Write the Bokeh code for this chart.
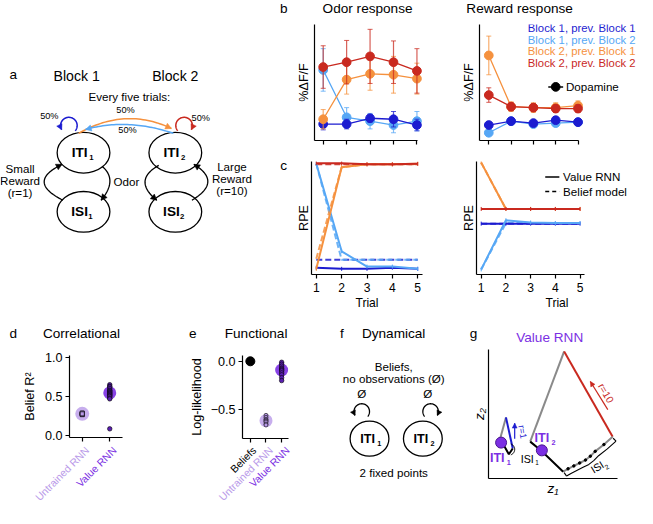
import numpy as np
from bokeh.plotting import figure
from bokeh.layouts import row, column
from bokeh.models import Range1d, Label, FixedTicker
from bokeh.embed import file_html
from bokeh.resources import INLINE

FONT = "Liberation Sans"
SX = 637 / 653
SY = 508 / 524
FS = 0.97

C_B1P1 = "#1c1cd0"
C_B1P2 = "#56a7f5"
C_B2P1 = "#f5913e"
C_B2P2 = "#c9291f"
PURPLE = "#7b2fe3"
LPURPLE = "#b99ae9"
GRAY = "#8a8a8a"

# ---------------- data ----------------
trials = [1, 2, 3, 4, 5]
series_names = ["Block 1, prev. Block 1", "Block 1, prev. Block 2",
                "Block 2, prev. Block 1", "Block 2, prev. Block 2"]

odor_b1p1 = [1.7, 1.7, 2.3, 2.2, 1.6]
odor_b1p1_err = [0.6, 0.5, 0.4, 0.8, 0.6]
odor_b1p2 = [7.3, 2.4, 2.0, 1.6, 2.0]
odor_b1p2_err = [2.2, 1.0, 0.8, 0.8, 1.0]
odor_b2p1 = [2.2, 6.3, 6.9, 6.8, 6.4]
odor_b2p1_err = [1.0, 1.5, 1.7, 1.9, 1.6]
odor_b2p2 = [7.6, 8.1, 8.7, 8.1, 7.2]
odor_b2p2_err = [2.2, 2.25, 2.8, 2.2, 2.3]

rew_b1p1 = [1.6, 2.0, 1.8, 2.1, 1.9]
rew_b1p1_err = [0.2, 0.2, 0.2, 0.3, 0.2]
rew_b1p2 = [0.8, 2.0, 1.7, 1.8, 1.9]
rew_b1p2_err = [0.2, 0.2, 0.2, 0.2, 0.2]
rew_b2p1 = [8.8, 3.5, 3.4, 3.4, 3.6]
rew_b2p1_err = [2.0, 0.5, 0.5, 0.5, 0.5]
rew_b2p2 = [4.7, 3.5, 3.4, 3.3, 3.3]
rew_b2p2_err = [0.75, 0.4, 0.4, 0.4, 0.4]

rpe_odor_rnn_b1p1 = [0.6, 0.5, 0.5, 0.6, 0.5]
rpe_odor_rnn_b1p2 = [9.8, 2.05, 0.7, 0.7, 0.5]
rpe_odor_rnn_b2p1 = [0.5, 9.5, 9.75, 9.75, 9.8]
rpe_odor_rnn_b2p2 = [9.85, 9.85, 9.75, 9.75, 9.8]
rpe_odor_bel_b1p1 = [1.3, 1.3, 1.3, 1.3, 1.3]
rpe_odor_bel_b1p2 = [9.8, 1.3, 1.3, 1.3, 1.3]
rpe_odor_bel_b2p1 = [1.4, 9.5, 9.75, 9.75, 9.75]
rpe_odor_bel_b2p2 = [9.75, 9.75, 9.75, 9.75, 9.75]

rpe_rew_rnn_b1p1 = [4.5, 4.5, 4.5, 4.5, 4.5]
rpe_rew_rnn_b1p2 = [0.45, 4.8, 4.6, 4.55, 4.55]
rpe_rew_rnn_b2p1 = [9.9, 5.8, 5.8, 5.8, 5.8]
rpe_rew_rnn_b2p2 = [5.8, 5.8, 5.8, 5.8, 5.8]
rpe_rew_bel_b1p1 = [4.5, 4.5, 4.5, 4.5, 4.5]
rpe_rew_bel_b1p2 = [0.45, 4.55, 4.55, 4.55, 4.55]
rpe_rew_bel_b2p1 = [9.9, 5.8, 5.8, 5.8, 5.8]
rpe_rew_bel_b2p2 = [5.8, 5.8, 5.8, 5.8, 5.8]

corr_labels = ["Untrained RNN", "Value RNN"]
r2_untrained = [0.27, 0.28, 0.29, 0.28, 0.27, 0.29, 0.28, 0.28]
r2_value = [0.65, 0.63, 0.62, 0.60, 0.58, 0.57, 0.56, 0.55, 0.54, 0.53,
            0.52, 0.51, 0.50, 0.48, 0.47, 0.09]

func_labels = ["Beliefs", "Untrained RNN", "Value RNN"]
ll_beliefs = [0.0]
ll_untrained = [-0.56, -0.58, -0.60, -0.61, -0.62, -0.63, -0.65, -0.66]
ll_value = [-0.01, -0.03, -0.05, -0.07, -0.08, -0.09, -0.10, -0.12, -0.14, -0.17, -0.20]

# Value RNN state-space trajectory (z1, z2)
traj_iti2_up_z1 = [0.43, 0.78]
traj_iti2_up_z2 = [0.38, 1.31]
traj_rew10_z1 = [0.78, 1.28]
traj_rew10_z2 = [1.31, 0.43]
traj_isi2_z1 = [1.28, 1.19, 1.10, 1.05, 1.00, 0.94, 0.88, 0.82, 0.77]
traj_isi2_z2 = [0.43, 0.35, 0.28, 0.23, 0.19, 0.16, 0.13, 0.10, 0.07]
traj_back2_z1 = [0.77, 0.55, 0.43]
traj_back2_z2 = [0.07, 0.28, 0.38]
traj_iti1_up_z1 = [0.12, 0.18]
traj_iti1_up_z2 = [0.41, 0.63]
traj_rew1_z1 = [0.18, 0.25]
traj_rew1_z2 = [0.63, 0.31]
traj_back1_z1 = [0.25, 0.21, 0.12]
traj_back1_z2 = [0.31, 0.25, 0.41]
fixed_z1 = [0.13, 0.55]
fixed_z2 = [0.37, 0.29]


# ---------------- helpers ----------------
def fpx(s):
    return f"{s * FS:.1f}px"


def make_fig(box, frame, xr, yr, axes=True):
    bx0, bx1, by0, by1 = box
    X0, X1 = round(bx0 * SX), round(bx1 * SX)
    Y0, Y1 = round(by0 * SY), round(by1 * SY)
    fl, ft, fr, fb = frame
    kw = dict(width=X1 - X0, height=Y1 - Y0,
              x_range=Range1d(*xr), y_range=Range1d(*yr),
              output_backend="svg", toolbar_location=None, frame_align=False,
              min_border_left=round(fl * SX) - X0,
              min_border_right=X1 - round(fr * SX),
              min_border_top=round(ft * SY) - Y0,
              min_border_bottom=Y1 - round(fb * SY))
    if not axes:
        kw.update(x_axis_type=None, y_axis_type=None)
    p = figure(**kw)
    p.outline_line_color = None
    p.border_fill_color = "white"
    p.background_fill_color = "white"
    if axes:
        for g in p.grid:
            g.visible = False
    return p


def diagram(box):
    bx0, bx1, by0, by1 = box
    fr = (bx0, by0, bx1, by1)
    xr, yr = (bx0, bx1), (by1, by0)
    return make_fig(box, fr, xr, yr, axes=False), fr, xr, yr


def to_data(frame, xr, yr, x, y):
    fl, ft, fr, fb = frame
    dx = xr[0] + (x - fl) / (fr - fl) * (xr[1] - xr[0])
    dy = yr[1] - (y - ft) / (fb - ft) * (yr[1] - yr[0])
    return dx, dy


def lab(p, fr, xr, yr, x, y, text, size, color="black", align="center",
        style="normal", angle=0.0, baseline="middle"):
    dx, dy = to_data(fr, xr, yr, x, y)
    p.add_layout(Label(x=dx, y=dy, text=text, text_font=FONT,
                       text_font_size=fpx(size), text_color=color,
                       text_align=align, text_baseline=baseline,
                       text_font_style=style, angle=angle))


def head(p, xs, ys, color, L, W):
    x1, y1 = xs[-1], ys[-1]
    x0, y0 = xs[-3], ys[-3]
    dx, dy = x1 - x0, y1 - y0
    n = np.hypot(dx, dy)
    dx, dy = dx / n, dy / n
    bx, by = x1 - dx * L, y1 - dy * L
    p.patch([x1, bx - dy * W, bx + dy * W], [y1, by + dx * W, by - dx * W],
            fill_color=color, line_color=color, line_width=0.5)


def qbez(P0, C, P2, n=40):
    t = np.linspace(0, 1, n)[:, None]
    P = (1 - t) ** 2 * np.array(P0, float) + 2 * (1 - t) * t * np.array(C, float) \
        + t ** 2 * np.array(P2, float)
    return P[:, 0], P[:, 1]


def loop(cx, cy, r, a0, a1):
    a = np.radians(np.linspace(a0, a1, 60))
    return cx + r * np.cos(a), cy + r * np.sin(a)


def style_axis(ax, size=13):
    ax.axis_line_color = "black"
    ax.axis_line_width = 1.2
    ax.major_tick_line_color = "black"
    ax.major_tick_line_width = 1.2
    ax.major_tick_out = 4
    ax.major_tick_in = 0
    ax.minor_tick_line_color = None
    ax.major_label_text_font = FONT
    ax.major_label_text_font_size = fpx(size)
    ax.major_label_text_color = "black"
    ax.axis_label_text_font = FONT
    ax.axis_label_text_font_size = fpx(size)
    ax.axis_label_text_font_style = "normal"
    ax.axis_label_text_color = "black"


def hide_labels(ax, ticks):
    ax.ticker = FixedTicker(ticks=ticks)
    ax.major_label_overrides = {t: "" for t in ticks}
    ax.major_label_text_font_size = "0px"
    ax.major_label_standoff = 0
    ax.axis_label_standoff = 0


def no_ticks(ax):
    ax.ticker = FixedTicker(ticks=[])
    ax.major_tick_out = 0
    ax.major_label_standoff = 0


# ---------------- panel a (diagram) ----------------
pA, frA, xrA, yrA = diagram((0, 300, 0, 328))
pA.ellipse(x=[85, 85, 179, 179], y=[157, 218, 157, 218], width=54, height=42,
           fill_color=None, line_color="black", line_width=1.3)

for (P0, C, P2) in [((104, 171), (120.5, 185), (103, 206)),
                    ((64, 206), (26, 187), (63, 169)),
                    ((162, 170), (135, 185.5), (160, 206)),
                    ((196, 206), (227.5, 187), (198, 169))]:
    xs, ys = qbez(P0, C, P2)
    pA.line(xs, ys, line_color="black", line_width=1.3)
    head(pA, xs, ys, "black", 6, 3.2)

xs, ys = qbez((80, 137), (128, 109.5), (175, 132))
pA.line(xs, ys, line_color=C_B2P1, line_width=1.5)
head(pA, xs, ys, C_B2P1, 6, 3.2)
xs, ys = qbez((177, 137), (130, 121), (87, 133))
pA.line(xs, ys, line_color=C_B1P2, line_width=1.5)
head(pA, xs, ys, C_B1P2, 6, 3.2)
xs, ys = loop(70, 129, 8.5, 40, -210)
pA.line(xs, ys, line_color=C_B1P1, line_width=1.5)
head(pA, xs, ys, C_B1P1, 5.5, 3)
xs, ys = loop(188, 129, 8.5, 140, 390)
pA.line(xs, ys, line_color=C_B2P2, line_width=1.5)
head(pA, xs, ys, C_B2P2, 5.5, 3)

for (x, y, t, s, st) in [
        (13, 76, "a", 14, "normal"),
        (290, 8, "b", 14, "normal"),
        (290, 170, "c", 14, "normal"),
        (78, 78, "Block 1", 14.5, "normal"),
        (179, 78, "Block 2", 14.5, "normal"),
        (132, 99, "Every five trials:", 12, "normal"),
        (50, 119, "50%", 9.5, "normal"),
        (128, 113, "50%", 9.5, "normal"),
        (130, 134, "50%", 9.5, "normal"),
        (205, 121, "50%", 9.5, "normal"),
        (20, 173, "Small", 12, "normal"),
        (20, 185.5, "Reward", 12, "normal"),
        (20, 198, "(r=1)", 12, "normal"),
        (129, 187, "Odor", 12, "normal"),
        (237, 171, "Large", 12, "normal"),
        (237, 183.5, "Reward", 12, "normal"),
        (237, 196, "(r=10)", 12, "normal"),
        (81, 157, "ITI", 14, "bold"),
        (81, 218, "ISI", 14, "bold"),
        (175, 157, "ITI", 14, "bold"),
        (175, 218, "ISI", 14, "bold")]:
    lab(pA, frA, xrA, yrA, x, y, t, s, style=st)
for (x, y, t) in [(93, 162, "1"), (92, 223, "1"), (187, 162, "2"), (186, 223, "2")]:
    lab(pA, frA, xrA, yrA, x, y, t, 8, style="bold")

# header strip for panel b titles
pHB, frHB, xrHB, yrHB = diagram((300, 653, 0, 17))
lab(pHB, frHB, xrHB, yrHB, 376, 8, "Odor response", 14)
lab(pHB, frHB, xrHB, yrHB, 532, 8, "Reward response", 14)


# ---------------- panel b ----------------
def dff_panel(box, frame, xr, series):
    yr = (0, 12)
    p = make_fig(box, frame, xr, yr)
    style_axis(p.xaxis[0])
    style_axis(p.yaxis[0])
    hide_labels(p.xaxis[0], trials)
    p.xaxis.bounds = (xr[0], 5.03)
    no_ticks(p.yaxis[0])
    p.yaxis.axis_label = "%ΔF/F"
    p.yaxis.axis_label_standoff = 4
    for vals, errs, col in series:
        lo = [v - e for v, e in zip(vals, errs)]
        hi = [v + e for v, e in zip(vals, errs)]
        p.segment(x0=trials, y0=lo, x1=trials, y1=hi, line_color=col,
                  line_width=1.2, line_alpha=0.75)
        p.scatter(trials, lo, marker="dash", size=5, line_color=col, line_alpha=0.75)
        p.scatter(trials, hi, marker="dash", size=5, line_color=col, line_alpha=0.75)
        p.line(trials, vals, line_color=col, line_width=1.3)
        p.scatter(trials, vals, size=9 * FS, fill_color=col, line_color=col)
    return p, yr


bBo, frBo = (300, 470, 17, 160), (321, 25, 440, 144)
xrBo = (1 - 9 / 24.25, 5 + 13 / 24.25)
pBo, yrB = dff_panel(bBo, frBo, xrBo,
                     [(odor_b1p2, odor_b1p2_err, C_B1P2),
                      (odor_b1p1, odor_b1p1_err, C_B1P1),
                      (odor_b2p1, odor_b2p1_err, C_B2P1),
                      (odor_b2p2, odor_b2p2_err, C_B2P2)])

bBr, frBr = (470, 653, 17, 160), (483, 25, 653, 144)
xrBr = (1 - 10 / 24, 5 + 64 / 24)
pBr, _ = dff_panel(bBr, frBr, xrBr,
                   [(rew_b1p2, rew_b1p2_err, C_B1P2),
                    (rew_b1p1, rew_b1p1_err, C_B1P1),
                    (rew_b2p1, rew_b2p1_err, C_B2P1),
                    (rew_b2p2, rew_b2p2_err, C_B2P2)])
for i, (nm, col) in enumerate(zip(series_names, [C_B1P1, C_B1P2, C_B2P1, C_B2P2])):
    lab(pBr, frBr, xrBr, yrB, 535, 29 + 11.8 * i, nm, 11.7, color=col, align="left")
lx0, ly0 = to_data(frBr, xrBr, yrB, 557, 89)
lx1, _ = to_data(frBr, xrBr, yrB, 573, 89)
pBr.line([lx0, lx1], [ly0, ly0], line_color="black", line_width=1.5)
pBr.scatter([(lx0 + lx1) / 2], [ly0], size=9 * FS, color="black")
lab(pBr, frBr, xrBr, yrB, 576, 89, "Dopamine", 12, align="left")


# ---------------- panel c ----------------
def rpe_panel(box, frame, xr, rnn, bel, show_legend=False):
    yr = (0, 10)
    p = make_fig(box, frame, xr, yr)
    style_axis(p.xaxis[0], 12.5)
    style_axis(p.yaxis[0])
    p.xaxis.ticker = FixedTicker(ticks=trials)
    p.xaxis.major_label_standoff = 4
    p.xaxis.axis_label = "Trial"
    p.xaxis.axis_label_standoff = 1
    p.xaxis.bounds = (xr[0], 5 + 5 / 26.4)
    no_ticks(p.yaxis[0])
    p.yaxis.axis_label = "RPE"
    p.yaxis.axis_label_standoff = 1
    cols = [C_B1P1, C_B1P2, C_B2P1, C_B2P2]
    for vals, col in zip(bel, cols):
        p.line(trials, vals, line_color=col, line_width=2, line_dash="6 3", line_alpha=0.85)
    for vals, col in zip(rnn, cols):
        p.line(trials, vals, line_color=col, line_width=2)
        p.scatter(trials, vals, marker="dash", size=4, line_color=col, angle=1.5708)
    if show_legend:
        a0, y0 = to_data(frame, xr, yr, 555, 182)
        a1, y1 = to_data(frame, xr, yr, 570, 197)
        p.line([a0, a1], [y0, y0], line_color="black", line_width=1.5)
        p.line([a0, a1], [y1, y1], line_color="black", line_width=1.5, line_dash="4 3")
        lab(p, frame, xr, yr, 574, 182, "Value RNN", 12, align="left")
        lab(p, frame, xr, yr, 574, 197, "Belief model", 12, align="left")
    return p


bCl, frCl = (300, 470, 160, 328), (317, 166, 433, 283)
xrCl = (1 - 5 / 26.5, 5 + 5 / 26.5)
pCl = rpe_panel(bCl, frCl, xrCl,
                [rpe_odor_rnn_b1p1, rpe_odor_rnn_b1p2, rpe_odor_rnn_b2p1, rpe_odor_rnn_b2p2],
                [rpe_odor_bel_b1p1, rpe_odor_bel_b1p2, rpe_odor_bel_b2p1, rpe_odor_bel_b2p2])
bCr, frCr = (470, 653, 160, 328), (482, 166, 653, 283)
xrCr = (1 - 5 / 26.25, 5 + 61 / 26.25)
pCr = rpe_panel(bCr, frCr, xrCr,
                [rpe_rew_rnn_b1p1, rpe_rew_rnn_b1p2, rpe_rew_rnn_b2p1, rpe_rew_rnn_b2p2],
                [rpe_rew_bel_b1p1, rpe_rew_bel_b1p2, rpe_rew_bel_b2p1, rpe_rew_bel_b2p2],
                show_legend=True)

# ---------------- header strip for bottom row ----------------
pHD, frHD, xrHD, yrHD = diagram((0, 653, 328, 358))
for (x, y, t, c) in [(13, 343, "d", "black"), (83, 343, "Correlational", "black"),
                     (197, 343, "e", "black"), (262, 343, "Functional", "black"),
                     (350, 343, "f", "black"), (403, 343, "Dynamical", "black"),
                     (485, 343, "g", "black"), (563, 348, "Value RNN", PURPLE)]:
    lab(pHD, frHD, xrHD, yrHD, x, y, t, 14, color=c)

# ---------------- panel d ----------------
bD, frD = (0, 190, 358, 458), (71, 366, 125, 451)
xrD, yrD = (1 - 13 / 28, 2 + 13 / 28), (-0.02, 1.02)
pD = make_fig(bD, frD, xrD, yrD)
style_axis(pD.xaxis[0])
style_axis(pD.yaxis[0])
hide_labels(pD.xaxis[0], [1, 2])
pD.yaxis.ticker = FixedTicker(ticks=[0, 0.5, 1.0])
pD.yaxis.major_label_overrides = {0: "0.0", 0.5: "0.5", 1: "1.0"}
pD.yaxis.major_label_standoff = 3
pD.yaxis.axis_label = "Belief R²"
pD.yaxis.axis_label_standoff = 5
pD.scatter([1], [float(np.median(r2_untrained))], size=14, fill_color=LPURPLE,
           line_color=None, fill_alpha=0.8)
pD.scatter([1] * len(r2_untrained), r2_untrained, size=4, marker="square",
           fill_color=LPURPLE, line_color="black", line_width=0.6)
pD.scatter([2], [float(np.median(r2_value))], size=13, fill_color=PURPLE,
           line_color=None, fill_alpha=0.9)
pD.scatter([2] * len(r2_value), r2_value, size=4.5, fill_color="#5a1fb0",
           line_color="black", line_width=0.6)

pDl, frDl, xrDl, yrDl = diagram((0, 190, 458, 524))
lab(pDl, frDl, xrDl, yrDl, 89, 462, corr_labels[0], 10.8, color=LPURPLE, align="right",
    angle=np.pi / 4)
lab(pDl, frDl, xrDl, yrDl, 117, 462, corr_labels[1], 10.8, color=PURPLE, align="right",
    angle=np.pi / 4)

# ---------------- panel e ----------------
bE, frE = (190, 345, 358, 458), (248, 366, 295, 452)
xrE, yrE = (0.5, 3 + 7 / 16), (-0.8, 0.06)
pE = make_fig(bE, frE, xrE, yrE)
style_axis(pE.xaxis[0])
style_axis(pE.yaxis[0])
hide_labels(pE.xaxis[0], [1, 2, 3])
pE.yaxis.ticker = FixedTicker(ticks=[-0.5, 0.0])
pE.yaxis.major_label_overrides = {-0.5: "−0.5", 0: "0.0"}
pE.yaxis.major_label_standoff = 3
pE.yaxis.axis_label = "Log-likelihood"
pE.yaxis.axis_label_standoff = 4
pE.scatter([1], ll_beliefs, size=9, color="black")
pE.scatter([2], [float(np.median(ll_untrained))], size=13, fill_color=LPURPLE,
           line_color=None, fill_alpha=0.8)
pE.scatter([2] * len(ll_untrained), ll_untrained, size=4, fill_color=LPURPLE,
           line_color="black", line_width=0.6)
pE.scatter([3], [float(np.median(ll_value))], size=13, fill_color=PURPLE,
           line_color=None, fill_alpha=0.9)
pE.scatter([3] * len(ll_value), ll_value, size=4.5, fill_color="#5a1fb0",
           line_color="black", line_width=0.6)

pEl, frEl, xrEl, yrEl = diagram((190, 345, 458, 524))
for tx, txt, col in [(260, func_labels[0], "black"), (277, func_labels[1], LPURPLE),
                     (294, func_labels[2], PURPLE)]:
    lab(pEl, frEl, xrEl, yrEl, tx, 462, txt, 10.8, color=col, align="right", angle=np.pi / 4)

# ---------------- panel f (diagram) ----------------
pF, frF, xrF, yrF = diagram((345, 478, 358, 524))
pF.ellipse(x=[378, 433], y=[452, 452], width=40, height=36, fill_color=None,
           line_color="black", line_width=1.3)
xs, ys = loop(370, 424, 8, 40, -210)
pF.line(xs, ys, line_color="black", line_width=1.3)
head(pF, xs, ys, "black", 5, 2.8)
xs, ys = loop(441, 424, 8, 140, 390)
pF.line(xs, ys, line_color="black", line_width=1.3)
head(pF, xs, ys, "black", 5, 2.8)
for (x, y, t, s, st) in [(403, 378, "Beliefs,", 12, "normal"),
                         (403, 390, "no observations (Ø)", 12, "normal"),
                         (370, 405, "Ø", 12, "normal"),
                         (438, 405, "Ø", 12, "normal"),
                         (376, 452, "ITI", 13, "bold"),
                         (431, 452, "ITI", 13, "bold"),
                         (403, 487, "2 fixed points", 12, "normal")]:
    lab(pF, frF, xrF, yrF, x, y, t, s, style=st)
lab(pF, frF, xrF, yrF, 388, 457, "1", 7.5, style="bold")
lab(pF, frF, xrF, yrF, 443, 457, "2", 7.5, style="bold")

# ---------------- panel g ----------------
bG, frG = (478, 653, 358, 524), (500, 360, 633, 493)
xrG, yrG = (0, 1.33), (0, 1.33)
pG = make_fig(bG, frG, xrG, yrG)
style_axis(pG.xaxis[0], 14)
style_axis(pG.yaxis[0], 14)
for ax in (pG.xaxis[0], pG.yaxis[0]):
    no_ticks(ax)
    ax.axis_label_text_font_style = "italic"
    ax.axis_label_standoff = 2
pG.xaxis.axis_label = "z₁"
pG.yaxis.axis_label = "z₂"
pG.line(traj_iti2_up_z1, traj_iti2_up_z2, line_color=GRAY, line_width=2)
pG.line(traj_rew10_z1, traj_rew10_z2, line_color=C_B2P2, line_width=2)
pG.line(traj_isi2_z1, traj_isi2_z2, line_color=GRAY, line_width=2)
pG.scatter(traj_isi2_z1[1:-1], traj_isi2_z2[1:-1], size=2.5, color="black")
pG.line(traj_back2_z1, traj_back2_z2, line_color="black", line_width=2)
pG.line(traj_iti1_up_z1, traj_iti1_up_z2, line_color=GRAY, line_width=2)
pG.line(traj_rew1_z1, traj_rew1_z2, line_color=C_B1P1, line_width=2)
pG.line(traj_back1_z1, traj_back1_z2, line_color="black", line_width=2)
pG.scatter(fixed_z1, fixed_z2, size=11, fill_color=PURPLE, line_color="#4a1590")
ax0, ay0 = to_data(frG, xrG, yrG, 623, 422)
ax1, ay1 = to_data(frG, xrG, yrG, 605, 393)
pG.line([ax0, ax1], [ay0, ay1], line_color=C_B2P2, line_width=1.2)
head(pG, [ax0, (ax0 + ax1) / 2, ax1], [ay0, (ay0 + ay1) / 2, ay1], C_B2P2, 0.05, 0.025)
bx0, by0 = to_data(frG, xrG, yrG, 527, 452)
bx1, by1 = to_data(frG, xrG, yrG, 527, 436)
pG.line([bx0, bx1], [by0, by1], line_color=C_B1P1, line_width=1.2)
head(pG, [bx0, (bx0 + bx1) / 2, bx1], [by0, (by0 + by1) / 2, by1], C_B1P1, 0.05, 0.025)
# ISI2 bracket with end ticks
brx = [z + 0.035 for z in traj_isi2_z1]
bry = [z - 0.045 for z in traj_isi2_z2]
pG.line(brx, bry, line_color="black", line_width=1.1)
pG.segment(x0=[brx[0], brx[-1]], y0=[bry[0], bry[-1]],
           x1=[brx[0] - 0.03, brx[-1] - 0.025], y1=[bry[0] + 0.03, bry[-1] + 0.035],
           line_color="black", line_width=1.1)
# ISI1 small bracket
ang = np.radians(np.linspace(-70, 70, 20))
sx = [to_data(frG, xrG, yrG, 521 + 6 * np.cos(a), 463 + 6 * np.sin(a))[0] for a in ang]
sy = [to_data(frG, xrG, yrG, 521 + 6 * np.cos(a), 463 + 6 * np.sin(a))[1] for a in ang]
pG.line(sx, sy, line_color="black", line_width=1.0)
lab(pG, frG, xrG, yrG, 621, 405, "r=10", 10.5, color=C_B2P2, angle=-1.05)
lab(pG, frG, xrG, yrG, 535, 445, "r=1", 9.5, color=C_B1P1, angle=-1.4)
lab(pG, frG, xrG, yrG, 612, 481, "ISI", 11, angle=0.55)
lab(pG, frG, xrG, yrG, 622, 481, "2", 7, angle=0.55)
lab(pG, frG, xrG, yrG, 509, 472, "ITI", 13, color=PURPLE, style="bold")
lab(pG, frG, xrG, yrG, 521, 477, "1", 7.5, color=PURPLE, style="bold")
lab(pG, frG, xrG, yrG, 555, 451, "ITI", 13, color=PURPLE, style="bold")
lab(pG, frG, xrG, yrG, 567, 456, "2", 7.5, color=PURPLE, style="bold")
lab(pG, frG, xrG, yrG, 540, 473, "ISI", 11)
lab(pG, frG, xrG, yrG, 550, 477, "1", 6.5)

layout = column(
    row(pA, column(pHB, row(pBo, pBr), row(pCl, pCr))),
    pHD,
    row(column(pD, pDl), column(pE, pEl), pF, pG))
open("out.html", "w").write(file_html(layout, INLINE))
